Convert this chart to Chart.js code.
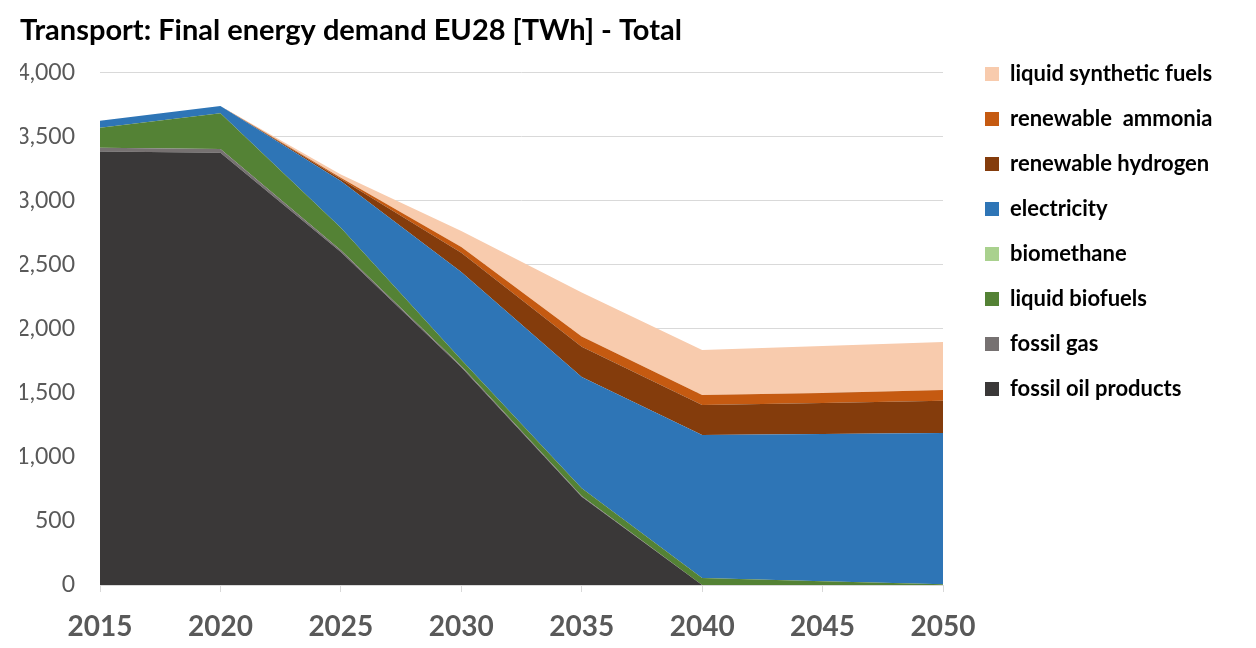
<!DOCTYPE html>
<html>
<head>
<meta charset="utf-8">
<script src="https://cdn.jsdelivr.net/npm/chart.js@4/dist/chart.umd.min.js"></script>
<style>
  html, body { margin: 0; padding: 0; background: #ffffff; }
  #wrap { width: 1256px; height: 648px; position: relative; }
</style>
</head>
<body>
<div id="wrap"><canvas id="c" width="1256" height="648"></canvas></div>
<script>
// ---- Data (TWh) ----
const years = ['2015', '2020', '2025', '2030', '2035', '2040', '2045', '2050'];
const fossilOilProducts   = [3385, 3375, 2600, 1700, 690, 0, 0, 0];
const fossilGas           = [30, 30, 15, 10, 5, 0, 0, 0];
const liquidBiofuels      = [155, 280, 175, 50, 60, 55, 30, 5];
const biomethane          = [0, 0, 0, 0, 0, 0, 0, 0];
const electricity         = [55, 55, 365, 685, 870, 1117, 1150, 1183];
const renewableHydrogen   = [0, 0, 15, 150, 235, 234, 242, 250];
const renewableAmmonia    = [0, 0, 10, 45, 80, 78, 78, 85];
const liquidSyntheticFuels = [0, 0, 25, 125, 345, 352, 367, 375];
const yTickValues = [0, 500, 1000, 1500, 2000, 2500, 3000, 3500, 4000];

const seriesNames = ['fossil oil products', 'fossil gas', 'liquid biofuels', 'biomethane',
  'electricity', 'renewable hydrogen', 'renewable  ammonia', 'liquid synthetic fuels'];
const seriesData = [fossilOilProducts, fossilGas, liquidBiofuels, biomethane,
  electricity, renewableHydrogen, renewableAmmonia, liquidSyntheticFuels];
const seriesColors = ['#3a3838', '#767171', '#548235', '#a9d18e',
  '#2e75b6', '#843c0c', '#c55a11', '#f8cbad'];

const FONT = 'Lato, "Open Sans", "DejaVu Sans", sans-serif';
Chart.defaults.font.family = FONT;

const datasets = seriesNames.map((name, i) => ({
  label: name,
  data: seriesData[i],
  backgroundColor: seriesColors[i],
  borderColor: seriesColors[i],
  borderWidth: 0,
  pointRadius: 0,
  pointHoverRadius: 0,
  tension: 0,
  fill: i === 0 ? 'origin' : '-1'
}));

const legendPlacement = {
  id: 'legendPlacement',
  afterInit(chart) {
    const lg = chart.legend;
    if (lg && !lg._wrapped) {
      const orig = lg.fit.bind(lg);
      lg.fit = function () { orig(); this.width = 313; };
      lg._wrapped = true;
    }
  },
  afterLayout(chart) {
    const lg = chart.legend;
    if (lg) {
      lg.left += 19; lg.right += 19;
      lg.top += 40; lg.bottom += 40;
    }
  }
};

new Chart(document.getElementById('c'), {
  type: 'line',
  data: { labels: years, datasets },
  options: {
    responsive: false,
    animation: false,
    layout: { padding: { left: 20, right: 0, top: 0, bottom: 0 } },
    interaction: { mode: 'index', intersect: false },
    plugins: {
      title: {
        display: true,
        text: 'Transport: Final energy demand EU28 [TWh] - Total',
        align: 'start',
        color: '#000000',
        font: { family: FONT, size: 29, weight: 'bold' },
        padding: { top: 13, bottom: 25 }
      },
      legend: {
        position: 'right',
        align: 'start',
        reverse: true,
        labels: {
          color: '#000000',
          font: { family: FONT, size: 22, weight: 'bold' },
          boxWidth: 14,
          boxHeight: 14,
          padding: 23
        }
      },
      tooltip: { enabled: false }
    },
    scales: {
      x: {
        offset: false,
        grid: {
          display: true,
          drawOnChartArea: false,
          drawTicks: true,
          tickLength: 7,
          color: '#d9d9d9'
        },
        border: { display: true, color: '#d9d9d9', width: 1 },
        ticks: {
          color: '#595959',
          font: { family: FONT, size: 28, weight: 'bold' },
          padding: 18,
          maxRotation: 0,
          autoSkip: false
        },
        afterFit(scale) { scale.height = 63; }
      },
      y: {
        stacked: true,
        min: 0,
        max: 4000,
        afterBuildTicks(scale) { scale.ticks = yTickValues.map(v => ({ value: v })); },
        grid: { color: '#d9d9d9', drawTicks: false, lineWidth: 1 },
        border: { display: false },
        ticks: {
          color: '#595959',
          font: { family: FONT, size: 23 },
          padding: 25,
          callback: (v) => Number(v).toLocaleString('en-US')
        },
        afterFit(scale) { scale.width = 80; }
      }
    }
  },
  plugins: [legendPlacement]
});
</script>
</body>
</html>
